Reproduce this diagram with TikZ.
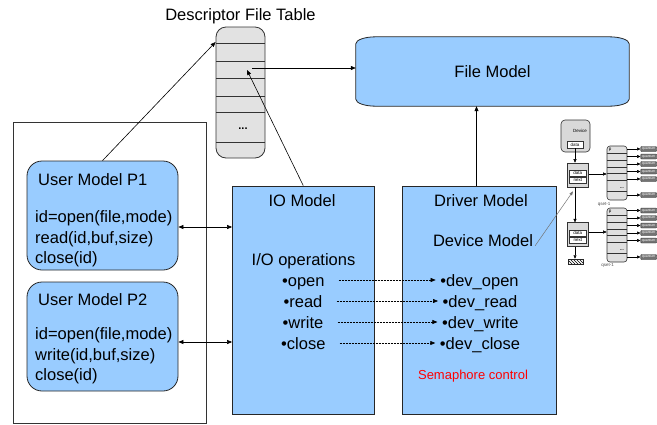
\documentclass[tikz,border=0pt]{standalone}
\usepackage{fontspec}
\setmainfont{Liberation Sans}
\usetikzlibrary{arrows.meta,patterns,backgrounds}
\definecolor{modelblue}{RGB}{153,204,255}
\definecolor{tablegray}{RGB}{226,226,226}
\definecolor{semred}{RGB}{255,0,0}

\begin{document}
\begin{tikzpicture}[x=1pt,y=-1pt,
  big/.style={font=\fontsize{16.5}{20}\selectfont},
  txt/.style={big, inner sep=0pt, anchor=base west},
  ctxt/.style={big, inner sep=0pt, anchor=base},
  optxt/.style={ctxt, text height=12pt, text depth=3.5pt},
  modelbox/.style={draw=black!85, line width=0.8pt, fill=modelblue, inner sep=0pt},
  userbox/.style={modelbox, rounded corners=15pt, minimum width=151pt, minimum height=109pt},
  arr/.style={line width=0.6pt, -{Triangle[length=5pt,width=4pt]}},
  biarr/.style={line width=0.6pt, {Triangle[length=5pt,width=4pt]}-{Triangle[length=5pt,width=4pt]}},
  dasharr/.style={line width=0.6pt, dash pattern=on 2pt off 1pt, -{Triangle[length=5pt,width=4pt]}},
  smallarr/.style={line width=0.5pt, -{Triangle[length=3.5pt,width=3pt]}},
  tinytxt/.style={font=\fontsize{4.5}{5}\selectfont, inner sep=0pt},
  cell/.style={draw=black!80, line width=0.4pt, fill=white, tinytxt, minimum width=17pt, minimum height=6.5pt},
  listnode/.style={draw=black!80, line width=0.6pt, fill=black!15, inner sep=0pt, minimum width=21pt, minimum height=24pt},
  qset/.style={draw=black!80, line width=0.6pt, fill=black!12, rounded corners=3pt, inner sep=0pt, minimum width=20pt, minimum height=54pt},
  quantum/.style={draw=black!80, line width=0.4pt, fill=black!55, text=white, inner sep=0pt,
                  font=\fontsize{3.4}{4}\selectfont, anchor=west, minimum width=16pt, minimum height=5pt, rounded corners=0.8pt}
]
\useasboundingbox (0,0) rectangle (657,424);

% ---------- user processes ----------
\node[draw=black!80, line width=0.8pt, minimum width=193pt, minimum height=301pt, inner sep=0pt] (users) at (109.5,272.5) {};
\node[userbox] (p1) at (102.5,215.5) {};
\node[userbox] (p2) at (102.5,336.5) {};
\node[txt] (p1t) at (38,185) {User Model P1};
\node[txt] (p1a) at (35,222.5) {id=open(file,mode)};
\node[txt] (p1b) at (35,243) {read(id,buf,size)};
\node[txt] (p1c) at (35,263.5) {close(id)};
\node[txt] (p2t) at (38,305) {User Model P2};
\node[txt] (p2a) at (35,339.5) {id=open(file,mode)};
\node[txt] (p2b) at (35,360) {write(id,buf,size)};
\node[txt] (p2c) at (35,380.5) {close(id)};

% ---------- IO model ----------
\node[modelbox, minimum width=141.5pt, minimum height=228.5pt] (io) at (303.25,300.25) {};
\node[ctxt] (iot) at (302,206.7) {IO Model};
\node[ctxt] (iop) at (303.5,265) {I/O operations};
\node[optxt] (o1) at (303.3,286) {•open};
\node[optxt] (o2) at (303,307) {•read};
\node[optxt] (o3) at (303,328) {•write};
\node[optxt] (o4) at (303.3,349) {•close};

% ---------- driver model ----------
\node[modelbox, minimum width=154pt, minimum height=228.5pt] (drv) at (479,300.25) {};
\node[ctxt] (drvt) at (481,206.7) {Driver Model};
\node[ctxt] (devm) at (483,246.7) {Device Model};
\node[optxt] (d1) at (479.5,286) {•dev\_open};
\node[optxt] (d2) at (480,307) {•dev\_read};
\node[optxt] (d3) at (480.3,328) {•dev\_write};
\node[optxt] (d4) at (480,349) {•dev\_close};
\node[inner sep=0pt, anchor=base, text=semred, font=\fontsize{13}{15}\selectfont] (sem) at (473,379) {Semaphore control};

% ---------- file model ----------
\node[big, inner sep=0pt, minimum width=273pt, minimum height=69pt] (fm) at (492.5,71.5) {File Model};
\begin{scope}[on background layer]
  \draw[line width=0.8pt, draw=black!85, fill=modelblue]
    ([yshift=-7pt]fm.north west) arc[start angle=180, end angle=90, x radius=20pt, y radius=7pt]
    -- ([xshift=-20pt]fm.north east) arc[start angle=90, end angle=0, x radius=20pt, y radius=7pt]
    -- ([yshift=7pt]fm.south east) arc[start angle=0, end angle=-90, x radius=20pt, y radius=7pt]
    -- ([xshift=20pt]fm.south west) arc[start angle=270, end angle=180, x radius=20pt, y radius=7pt]
    -- cycle;
\end{scope}

% ---------- descriptor file table ----------
\node[ctxt] (dftt) at (240.5,20.7) {Descriptor File Table};
\node[draw=black!80, line width=0.8pt, fill=tablegray, rounded corners=10pt, inner sep=0pt,
      minimum width=49pt, minimum height=131pt] (dft) at (240.5,92.5) {};
\foreach \y in {43,61,78,96,112,142}
  \draw[line width=0.8pt, black!80] (216,\y) -- (265,\y);
\node[inner sep=0pt, font=\fontsize{11}{12}\selectfont\bfseries] (dftdots) at (243,129) {...};
\coordinate (slotin) at (247,70);
\coordinate (slotout) at (252,68);

% ---------- connectors ----------
\draw[arr] (p1.north) -- ([yshift=50.5pt]dft.west);
\draw[arr] (io.north) -- (slotin);
\draw[arr] (slotout) -- (slotout -| fm.west);
\draw[arr] ([xshift=-2.5pt]drv.north) -- ([xshift=-2.5pt]drv.north |- fm.south);
\draw[biarr] ([yshift=-11.5pt]p1.east) -- ([yshift=-11.5pt]p1.east -| io.west);
\draw[biarr] ([yshift=-5.5pt]p2.east) -- ([yshift=-5.5pt]p2.east -| io.west);
\foreach \i in {1,2,3,4}
  \draw[dasharr, shorten >=4.5pt] ([xshift=14pt,yshift=1.75pt]o\i.east) -- ([yshift=1.75pt]o\i.east -| d\i.west);

% ---------- device structure ----------
\node[draw=black!80, line width=0.6pt, fill=black!15, rounded corners=4pt, inner sep=0pt,
      minimum width=29pt, minimum height=32pt] (dev) at (575.5,136) {};
\node[tinytxt] (devt) at (580,131) {Device};
\node[cell, minimum width=16pt, minimum height=7pt] (devdata) at (575,144.5) {data};

\node[listnode] (n1) at (577.8,175) {};
\node[cell] (n1d) at (577.8,173.3) {data};
\node[cell] (n1n) at (577.8,180.3) {next};
\node[listnode] (n2) at (577.8,234.7) {};
\node[cell] (n2d) at (577.8,233.3) {data};
\node[cell] (n2n) at (577.8,240.3) {next};
\node[draw=black!85, line width=0.5pt, pattern=north west lines, inner sep=0pt,
      minimum width=15pt, minimum height=5pt] (hatch) at (575.5,261.5) {};

\draw[smallarr] (devdata.south) -- (devdata.south |- n1.north);
\draw[smallarr] (devdata.south |- n1.south) -- (devdata.south |- n2.north);
\draw[smallarr] (devdata.south |- n2.south) -- (devdata.south |- hatch.north);

\node[qset] (q1) at (617,173) {};
\node[qset] (q2) at (617,235) {};
\foreach \y in {153,160,167,173,180,191}
  \draw[line width=0.4pt, black!80] (607,\y) -- (627,\y);
\foreach \y in {215,222,229,235,242,253}
  \draw[line width=0.4pt, black!80] (607,\y) -- (627,\y);
\node[tinytxt] (q1p) at (610,150) {p};
\node[tinytxt] (q2p) at (610,212) {p};
\node[tinytxt, font=\fontsize{4.5}{5}\selectfont\bfseries] (q1dots) at (622,188.5) {...};
\node[tinytxt, font=\fontsize{4.5}{5}\selectfont\bfseries] (q2dots) at (622,250.5) {...};
\node[tinytxt, text=black!70] (q1l) at (604,204) {qset-1};
\node[tinytxt, text=black!70] (q2l) at (607.5,265) {qset-1};

\draw[smallarr] ([yshift=1pt]n1.east) -- ([yshift=1pt]n1.east -| q1.west);
\draw[smallarr] ([yshift=2.7pt]n2.east) -- ([yshift=2.7pt]n2.east -| q2.west);

\foreach \y [count=\i] in {149,156.5,164,171.5,179,195}
  \node[quantum] (qa\i) at (640.5,\y) {quantum};
\foreach \y [count=\i] in {210.5,218,225.5,233,240.5,257}
  \node[quantum] (qb\i) at (640.5,\y) {quantum};
\foreach \i in {1,...,6} {
  \draw[smallarr] (qa\i.west -| q1.east) -- (qa\i.west);
  \draw[smallarr] (qb\i.west -| q2.east) -- (qb\i.west);
}

\draw[line width=0.5pt, black!55, -{Triangle[length=4pt,width=3pt]}]
  ([xshift=2pt,yshift=1pt]devm.base east) -- ([xshift=-4.8pt,yshift=-4pt]n1.south);
\end{tikzpicture}
\end{document}
